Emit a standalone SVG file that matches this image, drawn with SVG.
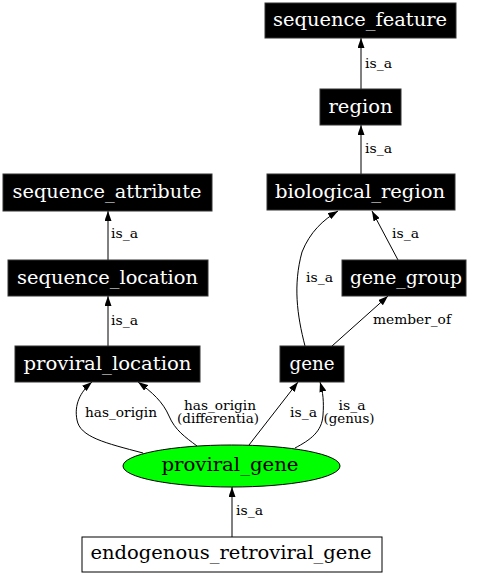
<svg xmlns="http://www.w3.org/2000/svg" width="479" height="576" viewBox="0 0 479 576">
<style>
.bx{fill:#000;stroke:#333;stroke-width:1}
.nt{font-family:"DejaVu Serif","Liberation Serif",serif;font-size:18px;fill:#fff;text-anchor:middle}
.nk{fill:#000}
.el{font-family:"DejaVu Serif","Liberation Serif",serif;font-size:13.5px;fill:#000}
.sm{font-size:12px}
.ec{text-anchor:middle}
.e{fill:none;stroke:#000;stroke-width:1;marker-end:url(#ah)}
</style>
<defs>
<marker id="ah" viewBox="0 0 10 7" refX="10" refY="3.5" markerWidth="10" markerHeight="7" markerUnits="userSpaceOnUse" orient="auto">
<path d="M0,0 L10,3.5 L0,7 z" fill="#000"/>
</marker>
</defs>
<rect width="479" height="576" fill="#fff"/>
<g id="edges">
<path class="e" d="M361,89 L361,38"/>
<text class="el" x="365" y="68" textLength="27" lengthAdjust="spacingAndGlyphs">is_a</text>
<path class="e" d="M361,174 L361,125"/>
<text class="el" x="365" y="153" textLength="27" lengthAdjust="spacingAndGlyphs">is_a</text>
<path class="e" d="M108,260 L108,211"/>
<text class="el" x="111" y="238" textLength="27" lengthAdjust="spacingAndGlyphs">is_a</text>
<path class="e" d="M108,346 L108,296"/>
<text class="el" x="111" y="325" textLength="27" lengthAdjust="spacingAndGlyphs">is_a</text>
<path class="e" d="M305,346 C297,315 293,285 302,252 C310,232 323,220 338,211"/>
<text class="el" x="306" y="282" textLength="27" lengthAdjust="spacingAndGlyphs">is_a</text>
<path class="e" d="M398,260 L372,211"/>
<text class="el" x="392" y="238" textLength="27" lengthAdjust="spacingAndGlyphs">is_a</text>
<path class="e" d="M332,346 L388,296"/>
<text class="el" x="373" y="324" textLength="78" lengthAdjust="spacingAndGlyphs">member_of</text>
<path class="e" d="M143,453 C105,443 80,437 77,420 C74,405 80,392 92,382"/>
<text class="el" x="85" y="417" textLength="72" lengthAdjust="spacingAndGlyphs">has_origin</text>
<path class="e" d="M197,446 C185,437 175,430 169,416 C163,402 152,392 138,382"/>
<text class="el ec sm" x="220" y="409.5" textLength="72" lengthAdjust="spacingAndGlyphs">has_origin</text>
<text class="el ec sm" x="218" y="422.5" textLength="82" lengthAdjust="spacingAndGlyphs">(differentia)</text>
<path class="e" d="M249,445 L298,382"/>
<text class="el" x="290" y="417" textLength="27" lengthAdjust="spacingAndGlyphs">is_a</text>
<path class="e" d="M295,448 C310,440 322,432 323,415 C324,402 323,392 320,382"/>
<text class="el ec sm" x="352" y="409.5" textLength="27" lengthAdjust="spacingAndGlyphs">is_a</text>
<text class="el ec sm" x="349" y="422.5" textLength="51" lengthAdjust="spacingAndGlyphs">(genus)</text>
<path class="e" d="M232,537 L232,487"/>
<text class="el" x="236" y="515" textLength="27" lengthAdjust="spacingAndGlyphs">is_a</text>
</g>
<g id="sequence_feature"><rect class="bx" x="265" y="3" width="191" height="35"/><text class="nt" x="360" y="26" textLength="174" lengthAdjust="spacingAndGlyphs">sequence_feature</text></g>
<g id="region"><rect class="bx" x="320" y="89" width="81" height="36"/><text class="nt" x="360.5" y="113" textLength="64" lengthAdjust="spacingAndGlyphs">region</text></g>
<g id="biological_region"><rect class="bx" x="267" y="174" width="188" height="36"/><text class="nt" x="360" y="198" textLength="170" lengthAdjust="spacingAndGlyphs">biological_region</text></g>
<g id="sequence_attribute"><rect class="bx" x="3" y="174" width="209" height="37"/><text class="nt" x="107" y="198" textLength="189" lengthAdjust="spacingAndGlyphs">sequence_attribute</text></g>
<g id="sequence_location"><rect class="bx" x="8" y="260" width="200" height="36"/><text class="nt" x="107.5" y="284" textLength="181" lengthAdjust="spacingAndGlyphs">sequence_location</text></g>
<g id="proviral_location"><rect class="bx" x="15" y="346" width="185" height="36"/><text class="nt" x="107.5" y="370" textLength="168" lengthAdjust="spacingAndGlyphs">proviral_location</text></g>
<g id="gene"><rect class="bx" x="280" y="346" width="64" height="36"/><text class="nt" x="312" y="370" textLength="45" lengthAdjust="spacingAndGlyphs">gene</text></g>
<g id="gene_group"><rect class="bx" x="342" y="260" width="124" height="36"/><text class="nt" x="406" y="284" textLength="112" lengthAdjust="spacingAndGlyphs">gene_group</text></g>
<g id="proviral_gene"><ellipse cx="231.5" cy="466" rx="108.5" ry="21" fill="#00ff00" stroke="#000"/><text class="nt nk" x="230" y="471" textLength="137" lengthAdjust="spacingAndGlyphs">proviral_gene</text></g>
<g id="endogenous_retroviral_gene"><rect x="82" y="537" width="300" height="35" fill="#fff" stroke="#000"/><text class="nt nk" x="231" y="559" textLength="281" lengthAdjust="spacingAndGlyphs">endogenous_retroviral_gene</text></g>
</svg>
